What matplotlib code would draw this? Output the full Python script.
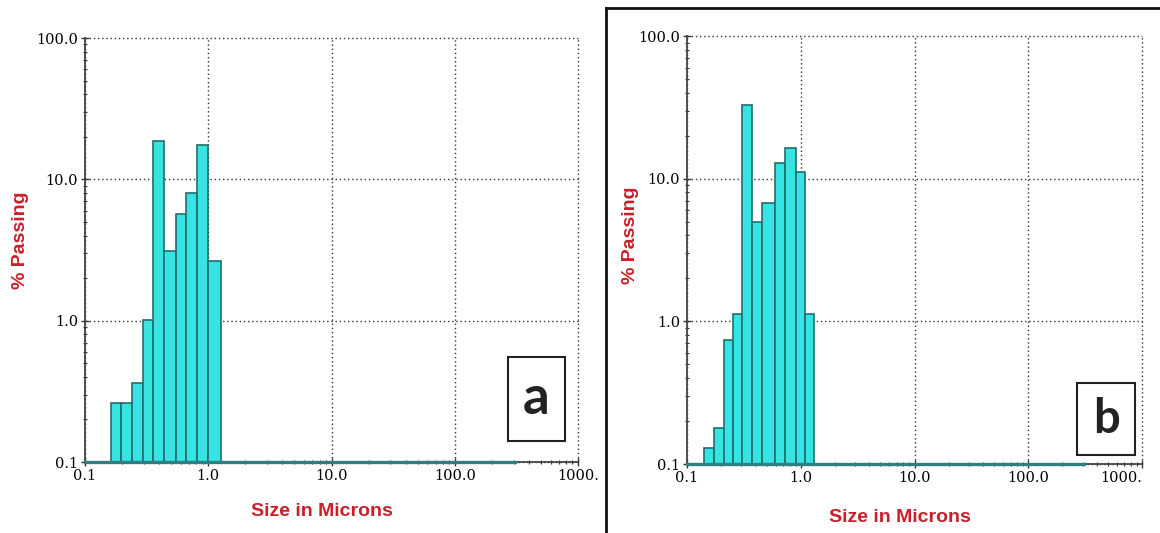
import numpy as np
import matplotlib
matplotlib.use('Agg')
import matplotlib.pyplot as plt
from matplotlib.patches import Rectangle
from matplotlib.ticker import FixedLocator, LogLocator, NullFormatter

# bin edges (microns) and % passing
edges_a = [0.162, 0.195, 0.239, 0.294, 0.358, 0.440, 0.545, 0.660, 0.815, 1.00, 1.28]
vals_a = [0.26, 0.26, 0.36, 1.01, 18.8, 3.13, 5.66, 8.05, 17.5, 2.66]

edges_b = [0.141, 0.171, 0.211, 0.255, 0.303, 0.374, 0.461, 0.589, 0.726, 0.906, 1.08, 1.31]
vals_b = [0.13, 0.18, 0.74, 1.12, 32.8, 4.99, 6.72, 12.9, 16.3, 11.2, 1.12]

baseline_end = 310.0
xticks = [0.1, 1.0, 10.0, 100.0, 1000.0]
xlabels = ['0.1', '1.0', '10.0', '100.0', '1000.']
yticks = [0.1, 1.0, 10.0, 100.0]
ylabels = ['0.1', '1.0', '10.0', '100.0']

red = '#c8202a'
fill = '#36e4e4'
edge = '#226c6c'

W, H = 1160, 533
fig = plt.figure(figsize=(W / 100, H / 100), dpi=100)
fig.patch.set_facecolor('white')


def px(x0, y0, x1, y1):
    return [x0 / W, 1 - y1 / H, (x1 - x0) / W, (y1 - y0) / H]


def panel(rect, edges, vals, letter, box, fsize, ylab_pos, xlab_pos, last_ha):
    ax = fig.add_axes(rect)
    edges = np.array(edges)
    vals = np.array(vals)
    ax.set_xscale('log')
    ax.set_yscale('log')
    ax.plot([0.1, baseline_end], [0.1, 0.1], color='#2f7f7f', lw=2.4, zorder=4, clip_on=False)
    ax.bar(edges[:-1], vals - 0.1, width=np.diff(edges), bottom=0.1, align='edge',
           color=fill, edgecolor=edge, linewidth=1.2, zorder=2)
    ax.set_xlim(0.1, 1000)
    ax.set_ylim(0.1, 100)
    ax.xaxis.set_major_locator(FixedLocator(xticks))
    ax.set_xticklabels(xlabels, family='DejaVu Serif', fontsize=10.5)
    ax.get_xticklabels()[-1].set_ha(last_ha)
    ax.yaxis.set_major_locator(FixedLocator(yticks))
    ax.set_yticklabels(ylabels, family='DejaVu Serif', fontsize=10.5)
    ax.xaxis.set_minor_locator(LogLocator(base=10, subs=np.arange(2, 10)))
    ax.yaxis.set_minor_locator(LogLocator(base=10, subs=np.arange(2, 10)))
    ax.xaxis.set_minor_formatter(NullFormatter())
    ax.yaxis.set_minor_formatter(NullFormatter())
    ax.tick_params(which='major', direction='inout', length=6, width=1, color='#333333', pad=2)
    ax.tick_params(which='minor', direction='inout', length=3, width=0.8, color='#333333')
    ax.grid(True, which='major', linestyle=(0, (1, 2)), color='#333333', lw=1)
    for gl in ax.get_xgridlines() + ax.get_ygridlines():
        gl.set_clip_on(False)
    for s in ['top', 'right']:
        ax.spines[s].set_visible(False)
    for s in ['left', 'bottom']:
        ax.spines[s].set_color('#444444')
        ax.spines[s].set_linewidth(1.3)
    ax.set_axisbelow(True)
    ax.set_ylabel('% Passing', color=red, fontsize=14, fontweight='bold', family='Liberation Sans',
                  va='center')
    ax.yaxis.set_label_coords(*ylab_pos)
    ax.set_xlabel('Size in Microns', color=red, fontsize=14, fontweight='bold', family='Liberation Sans',
                  va='center')
    ax.xaxis.set_label_coords(*xlab_pos)

    x0, y0, x1, y1 = box
    fig.add_artist(Rectangle((x0 / W, 1 - y1 / H), (x1 - x0) / W, (y1 - y0) / H,
                             transform=fig.transFigure, fill=True, facecolor='white',
                             edgecolor='#222222', lw=1.5))
    fig.text((x0 + x1) / 2 / W, 1 - (y0 + y1) / 2 / H, letter, ha='center', va='center',
             fontsize=fsize, fontweight='bold', family='Lato', color='#222222')
    return ax


panel(px(85, 38, 578, 462), edges_a, vals_a, 'a', (508, 357, 565, 441), 38,
      (-0.13, 0.524), (0.48, -0.1156), 'center')
panel(px(687, 36, 1142, 464), edges_b, vals_b, 'b', (1077, 383, 1135, 455), 34,
      (-0.124, 0.535), (0.468, -0.124), 'right')

# black frame round panel b
fig.add_artist(plt.Line2D([606 / W, 606 / W], [0, 1 - 8 / H], transform=fig.transFigure,
                          color='#111111', lw=2))
fig.add_artist(plt.Line2D([606 / W, 1], [1 - 8 / H, 1 - 8 / H], transform=fig.transFigure,
                          color='#111111', lw=2))

fig.savefig('out.png', dpi=100)
